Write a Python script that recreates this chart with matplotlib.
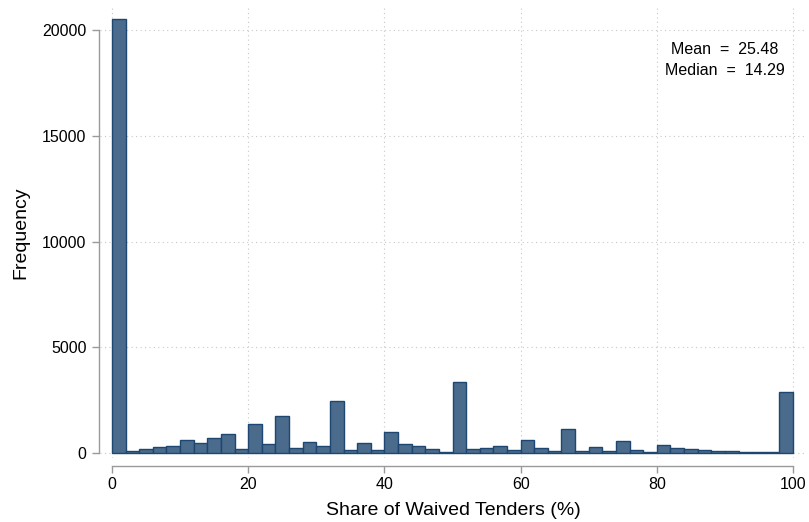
import numpy as np
import matplotlib.pyplot as plt

plt.rcParams['font.family'] = ['Liberation Sans', 'DejaVu Sans']

# histogram of the share of waived tenders, 2-point bins from 0 to 100
bin_edges = np.arange(0, 102, 2)
counts = [20520, 80, 190, 285, 315, 615, 475, 725, 900, 205,
          1370, 425, 1750, 220, 520, 330, 2475, 125, 475, 140,
          980, 410, 315, 175, 50, 3345, 190, 250, 345, 125,
          615, 250, 95, 1120, 95, 285, 95, 570, 160, 45,
          380, 235, 190, 125, 95, 110, 65, 45, 30, 2900]
mean_val = 25.48
median_val = 14.29

xticks = [0, 20, 40, 60, 80, 100]
yticks = [0, 5000, 10000, 15000, 20000]

fig = plt.figure(figsize=(8.09, 5.22), dpi=100)
ax = fig.add_axes([100 / 809, 1 - 458 / 522, 706 / 809, 450 / 522])

ax.bar(bin_edges[:-1], counts, width=2, align='edge',
       color='#4a6b8c', edgecolor='#1d4770', linewidth=1.0, zorder=3)

ax.set_xlim(-1.76, 101.9)
ax.set_ylim(-236, 21040)

ax.set_xticks(xticks)
ax.set_yticks(yticks)
ax.grid(True, linestyle=(0, (1, 3)), color='#c8c8c8', linewidth=0.8, zorder=0)

for side in ['top', 'right']:
    ax.spines[side].set_visible(False)
ax.spines['bottom'].set_position(('outward', 5.8))
ax.spines['left'].set_position(('outward', 0.8))
ax.spines['bottom'].set_bounds(0, 100)
ax.spines['left'].set_bounds(0, 20000)
for side in ['bottom', 'left']:
    ax.spines[side].set_color('#9a9a9a')
    ax.spines[side].set_linewidth(1.0)

ax.tick_params(axis='both', colors='#9a9a9a', length=5, width=1.0,
               labelcolor='black', labelsize=11.5)
ax.tick_params(axis='x', pad=3)
ax.tick_params(axis='y', pad=4)

ax.set_xlabel('Share of Waived Tenders (%)', fontsize=14, labelpad=7)
ax.set_ylabel('Frequency', fontsize=14, labelpad=9)

ax.text(0.885, 0.925, f'Mean  =  {mean_val:.2f}\nMedian  =  {median_val:.2f}',
        transform=ax.transAxes, ha='center', va='top', fontsize=11.5,
        linespacing=1.55)

fig.savefig('out.png', dpi=100)
